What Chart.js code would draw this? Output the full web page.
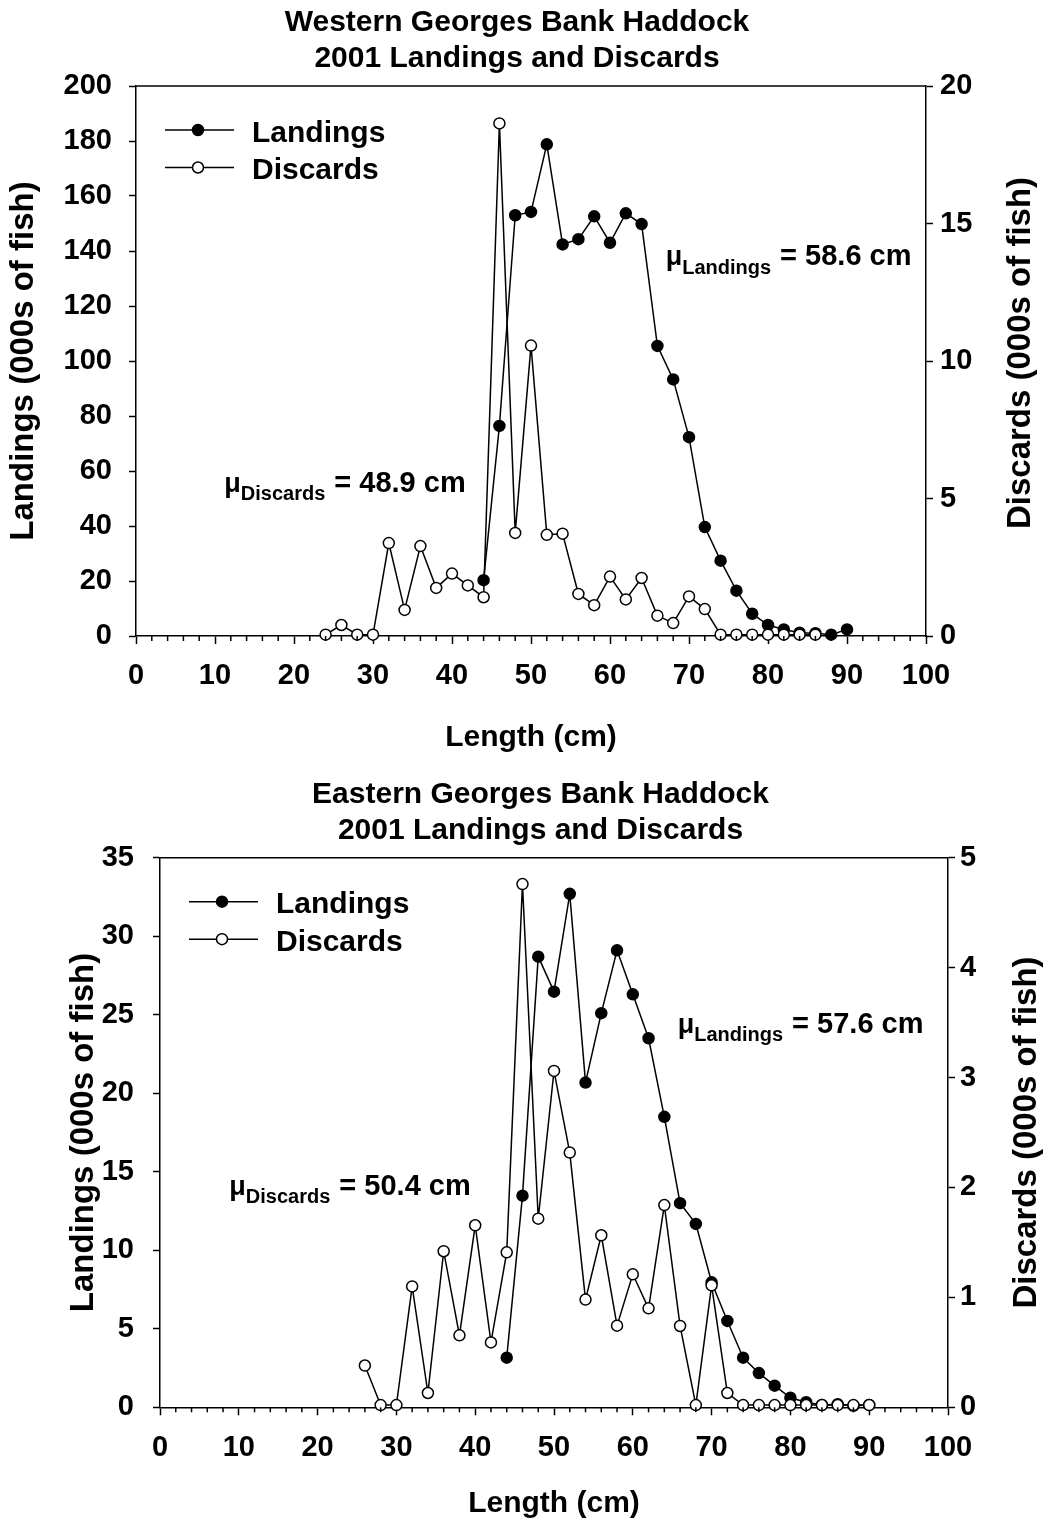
<!DOCTYPE html>
<html>
<head>
<meta charset="utf-8">
<script src="https://cdn.jsdelivr.net/npm/chart.js@4.4.1/dist/chart.umd.min.js"></script>
<style>
  body { margin: 0; background: #fff; }
  canvas { display: block; }
</style>
</head>
<body>
<canvas id="westChart" width="1045" height="760"></canvas>
<canvas id="eastChart" width="1045" height="762"></canvas>
<script>
// lengths (cm) and values
const westLandLen = [44, 46, 48, 50, 52, 54, 56, 58, 60, 62, 64, 66, 68, 70, 72, 74, 76, 78, 80, 82, 84, 86, 88, 90];
const westLandings = [20.3, 76.4, 153, 154.2, 178.8, 142.4, 144.3, 152.6, 143, 153.7, 149.8, 105.5, 93.3, 72.3, 39.6, 27.4, 16.5, 8.1, 4, 2.4, 1.2, 1, 0.5, 2.4];
const westDiscLen = [24, 26, 28, 30, 32, 34, 36, 38, 40, 42, 44, 46, 48, 50, 52, 54, 56, 58, 60, 62, 64, 66, 68, 70, 72, 74, 76, 78, 80, 82, 84, 86];
const westDiscards = [0.05, 0.4, 0.05, 0.05, 3.38, 0.95, 3.27, 1.75, 2.27, 1.84, 1.41, 18.64, 3.75, 10.56, 3.68, 3.72, 1.53, 1.12, 2.16, 1.33, 2.11, 0.74, 0.47, 1.44, 0.98, 0.05, 0.05, 0.05, 0.05, 0.05, 0.05, 0.05];

const eastLandLen = [44, 46, 48, 50, 52, 54, 56, 58, 60, 62, 64, 66, 68, 70, 72, 74, 76, 78, 80, 82, 84, 86, 88, 90];
const eastLandings = [3.16, 13.48, 28.7, 26.47, 32.7, 20.68, 25.1, 29.1, 26.3, 23.5, 18.5, 13.0, 11.68, 7.96, 5.5, 3.16, 2.18, 1.38, 0.61, 0.32, 0.15, 0.2, 0.1, 0.15];
const eastDiscLen = [26, 28, 30, 32, 34, 36, 38, 40, 42, 44, 46, 48, 50, 52, 54, 56, 58, 60, 62, 64, 66, 68, 70, 72, 74, 76, 78, 80, 82, 84, 86, 88, 90];
const eastDiscards = [0.38, 0.02, 0.02, 1.10, 0.13, 1.42, 0.655, 1.656, 0.59, 1.41, 4.76, 1.716, 3.06, 2.317, 0.98, 1.565, 0.743, 1.21, 0.90, 1.84, 0.74, 0.02, 1.11, 0.13, 0.02, 0.02, 0.02, 0.02, 0.02, 0.02, 0.02, 0.02, 0.02];

const seriesNames = ["Landings", "Discards"];
const FONT = "'Liberation Sans', Arial, sans-serif";

Chart.defaults.font.family = FONT;
Chart.defaults.color = "#000";

function pts(xs, ys) {
  return xs.map((x, i) => ({ x, y: ys[i] }));
}

// frame top, minor x ticks, in-plot legend, mean labels, right axis title
const decor = {
  id: "decor",
  afterDraw(chart, args, opts) {
    const { ctx, chartArea: a, scales } = chart;
    ctx.save();
    ctx.strokeStyle = "#000";
    ctx.fillStyle = "#000";
    ctx.lineWidth = 1.5;

    ctx.beginPath();
    ctx.moveTo(a.left, a.top);
    ctx.lineTo(a.right, a.top);
    ctx.stroke();

    for (let v = 2; v < 100; v += 2) {
      if (v % 10 === 0) continue;
      const px = scales.x.getPixelForValue(v);
      ctx.beginPath();
      ctx.moveTo(px, a.bottom);
      ctx.lineTo(px, a.bottom + 5);
      ctx.stroke();
    }

    // legend
    seriesNames.forEach((name, i) => {
      const ly = a.top + 44 + i * 37.5;
      ctx.beginPath();
      ctx.moveTo(a.left + 29, ly);
      ctx.lineTo(a.left + 98, ly);
      ctx.stroke();
      ctx.beginPath();
      ctx.arc(a.left + 62, ly, 5.5, 0, Math.PI * 2);
      ctx.fillStyle = i === 0 ? "#000" : "#fff";
      ctx.fill();
      ctx.stroke();
      ctx.fillStyle = "#000";
      ctx.font = "bold 30px " + FONT;
      ctx.textAlign = "left";
      ctx.textBaseline = "alphabetic";
      ctx.fillText(name, a.left + 116, ly + 11.5);
    });

    // mean length labels
    for (const n of opts.notes) {
      const px = scales.x.getPixelForValue(n.x);
      const py = scales.y.getPixelForValue(n.y);
      ctx.textAlign = "left";
      ctx.textBaseline = "alphabetic";
      ctx.font = "bold 27px " + FONT;
      ctx.fillText("\u03bc", px, py);
      ctx.font = "bold 20px " + FONT;
      ctx.fillText(n.sub, px + 16.5, py + 8.5);
      const w = ctx.measureText(n.sub).width;
      ctx.font = "bold 29px " + FONT;
      ctx.fillText(n.text, px + 16.5 + w + 9, py);
    }

    // right axis title, reading bottom to top
    ctx.translate(opts.rightTitleX, (a.top + a.bottom) / 2 + opts.rightTitleShift);
    ctx.rotate(-Math.PI / 2);
    ctx.font = "bold 33px " + FONT;
    ctx.textAlign = "center";
    ctx.textBaseline = "middle";
    ctx.fillText(opts.rightTitle, 0, 0);
    ctx.restore();
  }
};

function makeChart(cfg) {
  const axisBorder = { display: true, color: "#000", width: 1.5 };
  const tickFont = { size: 29, weight: "bold" };
  return new Chart(document.getElementById(cfg.id), {
    type: "line",
    data: {
      datasets: [
        {
          label: seriesNames[1],
          data: pts(cfg.discLen, cfg.discards),
          yAxisID: "y2",
          order: 0,
          borderColor: "#000",
          borderWidth: 1.5,
          pointRadius: 5.5,
          pointBackgroundColor: "#fff",
          pointBorderColor: "#000",
          pointBorderWidth: 1.5,
          tension: 0,
          clip: false
        },
        {
          label: seriesNames[0],
          data: pts(cfg.landLen, cfg.landings),
          yAxisID: "y",
          order: 1,
          borderColor: "#000",
          borderWidth: 1.5,
          pointRadius: 5.5,
          pointBackgroundColor: "#000",
          pointBorderColor: "#000",
          pointBorderWidth: 1.5,
          tension: 0,
          clip: false
        }
      ]
    },
    options: {
      responsive: false,
      animation: false,
      devicePixelRatio: 1,
      layout: { padding: cfg.layoutPad },
      plugins: {
        legend: { display: false },
        tooltip: { enabled: false },
        title: {
          display: true,
          text: cfg.title,
          color: "#000",
          font: { size: 30, weight: "bold", lineHeight: 1.2 },
          padding: cfg.titlePad
        },
        decor: {
          notes: cfg.notes,
          rightTitle: "Discards (000s of fish)",
          rightTitleX: cfg.rightTitleX,
          rightTitleShift: cfg.rightTitleShift
        }
      },
      scales: {
        x: {
          type: "linear",
          min: 0,
          max: 100,
          border: axisBorder,
          grid: { drawOnChartArea: false, tickLength: 8, tickColor: "#000", tickWidth: 1.5 },
          ticks: { stepSize: 10, font: tickFont, padding: 15, color: "#000" },
          title: { display: true, text: "Length (cm)", font: { size: 30, weight: "bold" }, padding: { top: 0, bottom: cfg.xTitlePad } },
          afterFit: (s) => { s.height = cfg.bottomHeight; }
        },
        y: {
          position: "left",
          min: 0,
          max: cfg.yMax,
          border: axisBorder,
          grid: { drawOnChartArea: false, tickLength: 7, tickColor: "#000", tickWidth: 1.5 },
          ticks: { stepSize: cfg.yStep, font: tickFont, padding: cfg.leftTickPad, color: "#000" },
          title: { display: true, text: "Landings (000s of fish)", font: { size: 33, weight: "bold" }, padding: { top: cfg.leftTitlePad, bottom: 0 } },
          afterFit: (s) => { s.width = cfg.leftWidth; }
        },
        y2: {
          position: "right",
          min: 0,
          max: cfg.y2Max,
          border: axisBorder,
          grid: { drawOnChartArea: false, tickLength: 7, tickColor: "#000", tickWidth: 1.5 },
          ticks: { stepSize: cfg.y2Step, font: tickFont, padding: cfg.rightTickPad, color: "#000" },
          afterFit: (s) => { s.width = cfg.rightWidth; }
        }
      }
    },
    plugins: [decor]
  });
}

makeChart({
  id: "westChart",
  title: ["Western Georges Bank Haddock", "2001 Landings and Discards"],
  titlePad: { top: 5, bottom: 9 },
  layoutPad: { left: 0, right: 11, top: 0, bottom: 0 },
  leftWidth: 136,
  rightWidth: 108,
  bottomHeight: 124,
  yMax: 200,
  yStep: 20,
  y2Max: 20,
  y2Step: 5,
  leftTickPad: 17,
  rightTickPad: 7,
  leftTitlePad: 4,
  xTitlePad: 4,
  rightTitleX: 1021,
  rightTitleShift: -8,
  landLen: westLandLen,
  landings: westLandings,
  discLen: westDiscLen,
  discards: westDiscards,
  notes: [
    { x: 67.05, y: 134.9, sub: "Landings", text: "= 58.6 cm" },
    { x: 11.18, y: 52.5, sub: "Discards", text: "= 48.9 cm" }
  ]
});

makeChart({
  id: "eastChart",
  title: ["Eastern Georges Bank Haddock", "2001 Landings and Discards"],
  titlePad: { top: 17, bottom: 8.7 },
  layoutPad: { left: 36, right: 0, top: 0, bottom: 0 },
  leftWidth: 124,
  rightWidth: 97,
  bottomHeight: 114.7,
  yMax: 35,
  yStep: 5,
  y2Max: 5,
  y2Step: 1,
  leftTickPad: 19,
  rightTickPad: 5,
  leftTitlePad: 28,
  xTitlePad: 0,
  rightTitleX: 1027,
  rightTitleShift: 0,
  landLen: eastLandLen,
  landings: eastLandings,
  discLen: eastDiscLen,
  discards: eastDiscards,
  notes: [
    { x: 65.7, y: 23.86, sub: "Landings", text: "= 57.6 cm" },
    { x: 8.8, y: 13.52, sub: "Discards", text: "= 50.4 cm" }
  ]
});
</script>
</body>
</html>
